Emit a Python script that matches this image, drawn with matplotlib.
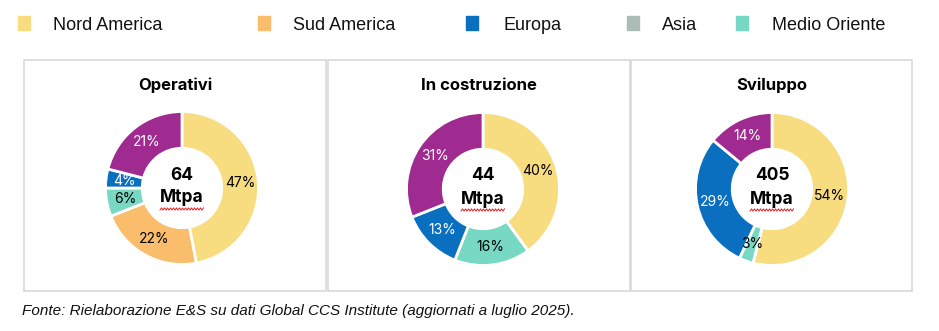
import matplotlib.pyplot as plt
from matplotlib.patches import Rectangle
import numpy as np

W, H = 939, 331

regions = ['Nord America', 'Sud America', 'Europa', 'Asia', 'Medio Oriente']
legend_colors = ['#F8DC80', '#F9BD6C', '#0A6FBF', '#ACBDB7', '#77D9C3']

# slices go clockwise from the top
slice_names = ['Nord America', 'Sud America', 'Medio Oriente', 'Europa', 'Asia']
slice_colors = ['#F8DC80', '#F9BD6C', '#77D9C3', '#0A6FBF', '#9F2A90']
label_colors = ['black', 'black', 'black', 'white', 'white']

titles = ['Operativi', 'In costruzione', 'Sviluppo']
totals = ['64', '44', '405']
shares = [
    [47, 22, 6, 4, 21],
    [40, 0, 16, 13, 31],
    [54, 0, 3, 29, 14],
]

panels = [(24, 326), (328, 630), (631, 912)]
centers = [(182, 188), (483, 189), (772, 189)]
radius = 78

fig = plt.figure(figsize=(W / 100, H / 100), dpi=100)
fig.patch.set_facecolor('white')

legend_font = ['Liberation Sans', 'DejaVu Sans']
sq_x = [18, 258, 466, 627, 736]
tx_x = [53, 293, 503, 662, 772]
for name, col, sx, tx in zip(regions, legend_colors, sq_x, tx_x):
    fig.patches.append(Rectangle((sx / W, 1 - 30 / H), 12 / W, 14 / H,
                                 transform=fig.transFigure, color=col))
    fig.text(tx / W, 1 - 25 / H, name, fontsize=13, family=legend_font,
             va='center', ha='left', color='#111111')

for i in range(3):
    x0, x1 = panels[i]
    fig.patches.append(Rectangle((x0 / W, 1 - 291 / H), (x1 - x0) / W, 231 / H,
                                 transform=fig.transFigure, facecolor='none',
                                 edgecolor='#D9D9D9', lw=1.2))
    fig.text((x0 + x1) / 2 / W, 1 - 85 / H, titles[i], fontsize=12,
             fontweight='bold', family='Inter', ha='center', va='center')

    cx, cy = centers[i]
    ax = fig.add_axes([(cx - radius) / W, (H - cy - radius) / H,
                       2 * radius / W, 2 * radius / H])
    vals = shares[i]
    wedges, _, autotexts = ax.pie(
        vals, colors=slice_colors, startangle=90, counterclock=False,
        radius=1, autopct=lambda p: f'{p:.0f}%' if p > 0.5 else '',
        pctdistance=0.76,
        wedgeprops=dict(width=0.48, edgecolor='white', linewidth=2),
        textprops=dict(fontsize=10, family='Inter'))
    for t, c in zip(autotexts, label_colors):
        t.set_color(c)
    ax.set_xlim(-1.02, 1.02)
    ax.set_ylim(-1.02, 1.02)

    fig.text(cx / W, 1 - (cy - 13) / H, totals[i], fontsize=12.5,
             fontweight='bold', family='Inter', ha='center', va='center')
    fig.text(cx / W, 1 - (cy + 10) / H, 'Mtpa', fontsize=12.5,
             fontweight='bold', family='Inter', ha='center', va='center')
    # spell-check squiggle under "Mtpa"
    xs = np.arange(cx - 22, cx + 23, 1.5)
    ys = cy + 21 + 1.1 * np.where(np.arange(len(xs)) % 2 == 0, 1, -1)
    fig.add_artist(plt.Line2D(xs / W, 1 - ys / H, color='#E02020', lw=0.7,
                              transform=fig.transFigure))

fig.text(22 / W, 1 - 311 / H,
         'Fonte: Rielaborazione E&S su dati Global CCS Institute (aggiornati a luglio 2025).',
         fontsize=11, style='italic', family=legend_font, ha='left', va='center',
         color='#111111')

fig.savefig('out.png', dpi=100)
